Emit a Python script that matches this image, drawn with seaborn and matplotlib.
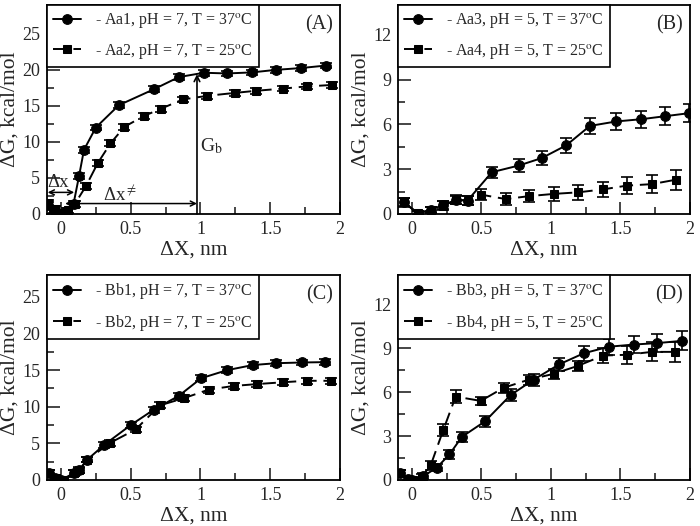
import numpy as np
import pandas as pd
import matplotlib
matplotlib.use("Agg")
import matplotlib.pyplot as plt
from matplotlib.ticker import MultipleLocator, FuncFormatter
import seaborn as sns

# ---------------- data ----------------
# Panel A
aa1_x = [-0.09, -0.05, 0.0, 0.04, 0.09, 0.13, 0.165, 0.25, 0.415, 0.665, 0.845, 1.025, 1.19, 1.37, 1.54, 1.72, 1.90]
aa1_y = [1.2, 0.5, 0.0, 0.4, 1.4, 5.3, 8.9, 12.0, 15.1, 17.3, 19.0, 19.6, 19.5, 19.65, 20.0, 20.25, 20.6]
aa1_e = [0.4] * len(aa1_x)
aa2_x = [-0.09, -0.04, 0.0, 0.05, 0.10, 0.18, 0.265, 0.355, 0.455, 0.595, 0.715, 0.875, 1.05, 1.245, 1.40, 1.59, 1.76, 1.94]
aa2_y = [1.5, 0.7, 0.1, 0.5, 1.4, 3.9, 7.1, 9.8, 12.1, 13.6, 14.6, 15.9, 16.4, 16.8, 17.1, 17.4, 17.7, 17.9]
aa2_e = [0.4] * len(aa2_x)

# Panel B
aa3_x = [-0.06, 0.045, 0.14, 0.225, 0.32, 0.40, 0.575, 0.77, 0.935, 1.11, 1.28, 1.47, 1.65, 1.82, 1.99]
aa3_y = [0.8, 0.02, 0.3, 0.6, 0.95, 0.9, 2.8, 3.25, 3.75, 4.6, 5.9, 6.2, 6.35, 6.55, 6.75]
aa3_e = [0.25, 0.15, 0.2, 0.25, 0.25, 0.3, 0.38, 0.45, 0.45, 0.5, 0.53, 0.54, 0.57, 0.6, 0.62]
aa4_x = [-0.06, 0.045, 0.14, 0.225, 0.32, 0.40, 0.495, 0.675, 0.845, 1.025, 1.195, 1.375, 1.545, 1.725, 1.90]
aa4_y = [0.8, 0.05, 0.3, 0.55, 0.95, 0.9, 1.3, 1.0, 1.2, 1.35, 1.45, 1.65, 1.9, 2.0, 2.3]
aa4_e = [0.3, 0.15, 0.2, 0.3, 0.3, 0.3, 0.35, 0.38, 0.42, 0.45, 0.48, 0.52, 0.55, 0.6, 0.68]

# Panel C
bb1_x = [-0.085, -0.04, 0.0, 0.09, 0.13, 0.19, 0.31, 0.50, 0.665, 0.845, 1.005, 1.19, 1.375, 1.54, 1.725, 1.895]
bb1_y = [1.0, 0.3, 0.0, 0.9, 1.4, 2.8, 4.8, 7.5, 9.6, 11.5, 13.9, 15.0, 15.7, 15.95, 16.05, 16.1]
bb1_e = [0.4] * len(bb1_x)
bb2_x = [-0.085, -0.04, 0.02, 0.09, 0.13, 0.19, 0.355, 0.535, 0.71, 0.885, 1.06, 1.24, 1.405, 1.59, 1.76, 1.935]
bb2_y = [1.0, 0.3, 0.0, 0.9, 1.3, 2.8, 5.1, 6.9, 10.2, 11.2, 12.35, 12.85, 13.1, 13.35, 13.55, 13.55]
bb2_e = [0.4] * len(bb2_x)

# Panel D
bb3_x = [-0.085, -0.03, 0.0, 0.08, 0.18, 0.27, 0.36, 0.525, 0.71, 0.875, 1.06, 1.235, 1.415, 1.595, 1.765, 1.94]
bb3_y = [0.5, 0.05, 0.0, 0.25, 0.85, 1.75, 2.95, 4.0, 5.8, 6.85, 7.9, 8.65, 9.1, 9.25, 9.35, 9.5]
bb3_e = [0.2, 0.15, 0.15, 0.2, 0.25, 0.3, 0.35, 0.35, 0.4, 0.4, 0.45, 0.5, 0.55, 0.6, 0.62, 0.65]
bb4_x = [-0.085, -0.03, 0.01, 0.07, 0.135, 0.225, 0.315, 0.495, 0.66, 0.84, 1.02, 1.195, 1.375, 1.545, 1.725, 1.895]
bb4_y = [0.5, 0.05, 0.0, 0.2, 1.0, 3.4, 5.7, 5.4, 6.3, 6.85, 7.25, 7.8, 8.5, 8.55, 8.75, 8.75]
bb4_e = [0.2, 0.15, 0.15, 0.2, 0.3, 0.4, 0.45, 0.3, 0.35, 0.35, 0.35, 0.35, 0.5, 0.6, 0.65, 0.7]

labels_A = ["- Aa1, pH = 7, T = 37$^{\\mathrm{o}}$C", "- Aa2, pH = 7, T = 25$^{\\mathrm{o}}$C"]
labels_B = ["- Aa3, pH = 5, T = 37$^{\\mathrm{o}}$C", "- Aa4, pH = 5, T = 25$^{\\mathrm{o}}$C"]
labels_C = ["- Bb1, pH = 7, T = 37$^{\\mathrm{o}}$C", "- Bb2, pH = 7, T = 25$^{\\mathrm{o}}$C"]
labels_D = ["- Bb3, pH = 5, T = 37$^{\\mathrm{o}}$C", "- Bb4, pH = 5, T = 25$^{\\mathrm{o}}$C"]
panel_tags = ["(A)", "(B)", "(C)", "(D)"]
x_ticks = [0, 0.5, 1, 1.5, 2]

# ---------------- style ----------------
sns.set_style("ticks")
plt.rcParams['font.family'] = ['Liberation Serif', 'DejaVu Serif']
plt.rcParams['mathtext.fontset'] = 'stix'
plt.rcParams['xtick.direction'] = 'in'
plt.rcParams['ytick.direction'] = 'in'

fig = plt.figure(figsize=(7.0, 5.26), dpi=100)
W, H = 700.0, 526.0
def add_ax(l, r, t, b):
    return fig.add_axes([l / W, 1 - b / H, (r - l) / W, (b - t) / H])

axA = add_ax(47, 340, 5, 214)
axB = add_ax(398, 690, 5, 214)
axC = add_ax(47, 340, 275, 480)
axD = add_ax(398, 690, 275, 480)

panels = [
    (axA, (aa1_x, aa1_y, aa1_e), (aa2_x, aa2_y, aa2_e), labels_A, 29, 5, 2.5),
    (axB, (aa3_x, aa3_y, aa3_e), (aa4_x, aa4_y, aa4_e), labels_B, 14, 3, 1.5),
    (axC, (bb1_x, bb1_y, bb1_e), (bb2_x, bb2_y, bb2_e), labels_C, 28, 5, 2.5),
    (axD, (bb3_x, bb3_y, bb3_e), (bb4_x, bb4_y, bb4_e), labels_D, 14, 3, 1.5),
]

def fmt(v, pos):
    return ("%g" % v)

for i, (ax, s1, s2, labs, ymax, ymaj, ymin) in enumerate(panels):
    df1 = pd.DataFrame({"x": s1[0], "y": s1[1]})
    df2 = pd.DataFrame({"x": s2[0], "y": s2[1]})
    ax.errorbar(s1[0], s1[1], yerr=s1[2], fmt='none', ecolor='k', elinewidth=1.2, capsize=4.5, capthick=1.2, zorder=2)
    ax.errorbar(s2[0], s2[1], yerr=s2[2], fmt='none', ecolor='k', elinewidth=1.2, capsize=4.5, capthick=1.2, zorder=2)
    sns.lineplot(data=df1, x="x", y="y", ax=ax, color='k', marker='o', markersize=7,
                 markeredgecolor='k', linewidth=1.4, estimator=None, sort=False, label=labs[0], zorder=3)
    sns.lineplot(data=df2, x="x", y="y", ax=ax, color='k', marker='s', markersize=5.5,
                 markeredgecolor='k', linewidth=1.4, linestyle=(0, (7, 3.5)), estimator=None, sort=False,
                 label=labs[1], zorder=3)
    ax.set_xlim(-0.1, 2)
    ax.set_ylim(0, ymax)
    ax.set_xticks(x_ticks)
    ax.xaxis.set_major_formatter(FuncFormatter(fmt))
    ax.xaxis.set_minor_locator(MultipleLocator(0.25))
    ax.yaxis.set_minor_locator(MultipleLocator(ymin))
    ax.set_yticks([t for t in np.arange(0, ymax, ymaj)])
    ax.tick_params(which='major', length=9, width=1.2, labelsize=13, pad=5, top=False, right=False)
    ax.tick_params(which='minor', length=5, width=1.2, top=False, right=False)
    for sp in ax.spines.values():
        sp.set_linewidth(1.3)
        sp.set_color('k')
    ax.set_xlabel("ΔX, nm", fontsize=15.5, labelpad=2)
    ax.set_ylabel("ΔG, kcal/mol", fontsize=15.5, labelpad=2)
    leg = ax.legend(loc='upper left', borderaxespad=0, fancybox=False, edgecolor='k', framealpha=1,
                    fontsize=11.5, handlelength=1.7, handletextpad=0.9, labelspacing=0.7, borderpad=0.4)
    leg.get_frame().set_linewidth(1.2)
    ax.text(0.976, 0.905, panel_tags[i], transform=ax.transAxes, ha='right', va='center', fontsize=14.5)

# annotations in panel A
arr = dict(arrowstyle='<->', color='k', lw=1.1, shrinkA=0, shrinkB=0, mutation_scale=9)
axA.annotate("", xy=(-0.095, 3.0), xytext=(0.095, 3.0), arrowprops=arr)
axA.annotate("", xy=(0.03, 1.45), xytext=(0.975, 1.45), arrowprops=arr)
axA.annotate("", xy=(0.975, 19.4), xytext=(0.975, 0.0),
             arrowprops=dict(arrowstyle='->', color='k', lw=1.2, shrinkA=0, shrinkB=0, mutation_scale=10))
axA.text(-0.02, 4.4, "Δx", fontsize=13.5, ha='center', va='center')
axA.text(0.42, 2.7, "Δx$^{\\neq}$", fontsize=13.5, ha='center', va='center')
axA.text(1.0, 9.4, "G$_{\\mathrm{b}}$", fontsize=14, ha='left', va='center')

fig.savefig("out.png", dpi=100)
